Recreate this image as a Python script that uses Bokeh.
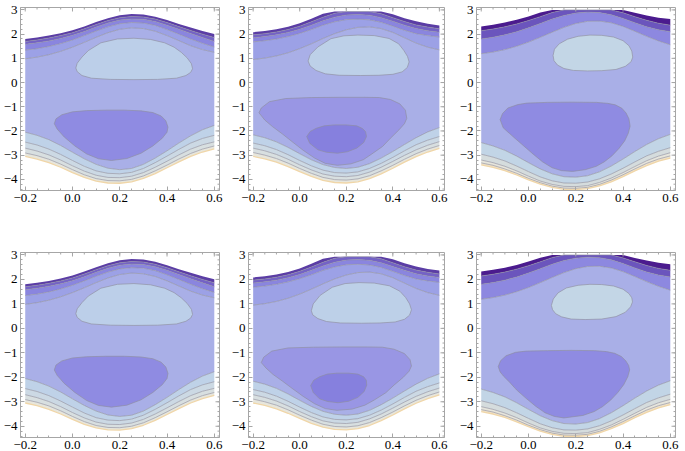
import math
from bokeh.plotting import figure
from bokeh.layouts import row, column
from bokeh.models import FixedTicker, LinearAxis, Range1d, CustomJSTickFormatter
from bokeh.embed import file_html
from bokeh.resources import INLINE

# ---------------- data ----------------
X = [-0.2, -0.15, -0.1, -0.05, 0.0, 0.05, 0.1, 0.15, 0.2, 0.25, 0.3, 0.35, 0.4, 0.45, 0.5, 0.55, 0.6]

# panels 1 & 4 : contour curves (top edge downwards, then lower part downwards)
T0A = [1.80, 1.86, 1.94, 2.04, 2.16, 2.32, 2.50, 2.66, 2.78, 2.83, 2.81, 2.72, 2.58, 2.42, 2.27, 2.13, 2.01]
T1A = [1.70, 1.76, 1.84, 1.94, 2.06, 2.22, 2.40, 2.56, 2.68, 2.73, 2.71, 2.62, 2.48, 2.31, 2.15, 2.00, 1.86]
T2A = [1.58, 1.64, 1.72, 1.82, 1.95, 2.11, 2.29, 2.46, 2.58, 2.63, 2.61, 2.52, 2.37, 2.20, 2.03, 1.86, 1.70]
T3A = [1.34, 1.40, 1.49, 1.61, 1.76, 1.94, 2.13, 2.30, 2.43, 2.48, 2.46, 2.36, 2.19, 2.00, 1.80, 1.62, 1.47]
T4A = [0.98, 1.05, 1.15, 1.29, 1.46, 1.66, 1.87, 2.06, 2.20, 2.26, 2.23, 2.12, 1.94, 1.73, 1.52, 1.36, 1.25]
B0A = [-2.05, -2.18, -2.36, -2.60, -2.88, -3.15, -3.38, -3.54, -3.60, -3.55, -3.38, -3.12, -2.82, -2.50, -2.20, -1.95, -1.77]
B1A = [-2.46, -2.58, -2.75, -2.97, -3.22, -3.46, -3.65, -3.75, -3.77, -3.71, -3.55, -3.31, -3.04, -2.76, -2.50, -2.31, -2.18]
B2A = [-2.71, -2.83, -2.99, -3.20, -3.44, -3.66, -3.83, -3.92, -3.93, -3.87, -3.72, -3.50, -3.25, -2.99, -2.75, -2.57, -2.45]
B3A = [-2.91, -3.02, -3.17, -3.37, -3.60, -3.81, -3.97, -4.05, -4.06, -4.00, -3.86, -3.65, -3.41, -3.16, -2.93, -2.75, -2.62]
BEA = [-3.05, -3.16, -3.31, -3.50, -3.72, -3.92, -4.07, -4.15, -4.16, -4.10, -3.96, -3.76, -3.52, -3.28, -3.05, -2.87, -2.74]

# panels 2 & 5
T0B = [2.08, 2.13, 2.20, 2.30, 2.45, 2.64, 2.84, 2.93, 2.93, 2.93, 2.93, 2.93, 2.82, 2.66, 2.53, 2.43, 2.36]
T1B = [1.97, 2.02, 2.09, 2.19, 2.33, 2.51, 2.70, 2.86, 2.93, 2.93, 2.93, 2.84, 2.68, 2.52, 2.38, 2.29, 2.22]
T2B = [1.85, 1.90, 1.97, 2.07, 2.20, 2.37, 2.55, 2.70, 2.79, 2.81, 2.78, 2.68, 2.53, 2.37, 2.23, 2.14, 2.08]
T3B = [1.68, 1.73, 1.80, 1.90, 2.03, 2.19, 2.37, 2.51, 2.60, 2.62, 2.59, 2.49, 2.33, 2.16, 2.02, 1.94, 1.88]
T4B = [0.95, 1.01, 1.10, 1.23, 1.40, 1.60, 1.82, 2.02, 2.18, 2.28, 2.30, 2.23, 2.07, 1.85, 1.63, 1.46, 1.35]
B0B = [-2.16, -2.28, -2.45, -2.68, -2.94, -3.19, -3.39, -3.51, -3.55, -3.50, -3.35, -3.12, -2.85, -2.56, -2.28, -2.04, -1.86]
B1B = [-2.50, -2.61, -2.77, -2.98, -3.22, -3.44, -3.62, -3.72, -3.74, -3.69, -3.55, -3.34, -3.09, -2.82, -2.57, -2.38, -2.23]
B2B = [-2.71, -2.82, -2.97, -3.17, -3.40, -3.61, -3.78, -3.87, -3.89, -3.84, -3.70, -3.50, -3.26, -3.01, -2.78, -2.59, -2.44]
B3B = [-2.89, -3.00, -3.14, -3.33, -3.55, -3.75, -3.92, -4.01, -4.03, -3.98, -3.85, -3.65, -3.42, -3.17, -2.94, -2.75, -2.60]
BEB = [-3.05, -3.15, -3.29, -3.47, -3.68, -3.88, -4.04, -4.13, -4.15, -4.10, -3.97, -3.77, -3.54, -3.29, -3.06, -2.87, -2.72]

# panels 3 & 6
T0C = [2.32, 2.39, 2.48, 2.59, 2.73, 2.89, 3.00, 3.00, 3.00, 3.00, 3.00, 3.00, 3.00, 2.88, 2.77, 2.68, 2.62]
T1C = [2.14, 2.21, 2.30, 2.42, 2.56, 2.72, 2.89, 3.00, 3.00, 3.00, 3.00, 3.00, 2.88, 2.72, 2.57, 2.45, 2.37]
T2C = [1.80, 1.87, 1.97, 2.10, 2.26, 2.44, 2.62, 2.77, 2.87, 2.91, 2.89, 2.80, 2.65, 2.47, 2.30, 2.18, 2.10]
T3C = [1.19, 1.26, 1.36, 1.50, 1.67, 1.87, 2.08, 2.28, 2.44, 2.53, 2.54, 2.47, 2.32, 2.12, 1.91, 1.72, 1.56]
B0C = [-2.48, -2.62, -2.80, -3.04, -3.31, -3.57, -3.77, -3.89, -3.91, -3.85, -3.69, -3.45, -3.16, -2.85, -2.56, -2.32, -2.14]
B1C = [-2.96, -3.08, -3.24, -3.45, -3.68, -3.90, -4.06, -4.15, -4.16, -4.11, -3.98, -3.78, -3.54, -3.28, -3.03, -2.84, -2.69]
B2C = [-3.20, -3.31, -3.46, -3.65, -3.87, -4.07, -4.21, -4.29, -4.30, -4.26, -4.13, -3.95, -3.72, -3.47, -3.23, -3.04, -2.90]
B3C = [-3.32, -3.42, -3.57, -3.75, -3.96, -4.14, -4.28, -4.36, -4.37, -4.33, -4.21, -4.03, -3.81, -3.57, -3.34, -3.16, -3.03]
BEC = [-3.40, -3.50, -3.64, -3.82, -4.02, -4.20, -4.33, -4.41, -4.42, -4.38, -4.27, -4.10, -3.89, -3.65, -3.43, -3.25, -3.12]

# closed regions (islands)
U1x = [0.014, 0.02, 0.04, 0.067, 0.12, 0.19, 0.26, 0.33, 0.39, 0.43, 0.46, 0.485, 0.503, 0.508, 0.50, 0.48, 0.44, 0.36, 0.26, 0.16, 0.08, 0.04, 0.02]
U1y = [0.60, 0.80, 1.05, 1.32, 1.64, 1.80, 1.83, 1.78, 1.64, 1.46, 1.25, 1.02, 0.78, 0.57, 0.42, 0.29, 0.18, 0.13, 0.12, 0.13, 0.18, 0.29, 0.45]
L1x = [-0.077, -0.07, -0.045, 0.0, 0.06, 0.14, 0.22, 0.29, 0.34, 0.375, 0.395, 0.404, 0.40, 0.38, 0.34, 0.29, 0.23, 0.165, 0.11, 0.06, 0.01, -0.035, -0.065]
L1y = [-1.70, -1.50, -1.33, -1.21, -1.16, -1.14, -1.14, -1.17, -1.24, -1.38, -1.58, -1.84, -2.05, -2.30, -2.62, -2.92, -3.14, -3.22, -3.15, -2.95, -2.62, -2.25, -1.92]

U2x = [0.036, 0.045, 0.078, 0.134, 0.19, 0.25, 0.32, 0.384, 0.425, 0.447, 0.463, 0.47, 0.462, 0.44, 0.40, 0.34, 0.26, 0.17, 0.11, 0.07, 0.045]
U2y = [0.89, 1.15, 1.47, 1.81, 1.93, 1.96, 1.94, 1.82, 1.60, 1.33, 1.08, 0.85, 0.62, 0.44, 0.34, 0.30, 0.29, 0.30, 0.36, 0.50, 0.68]
L2x = [-0.175, -0.165, -0.13, -0.06, 0.05, 0.17, 0.28, 0.342, 0.39, 0.43, 0.454, 0.46, 0.45, 0.426, 0.39, 0.356, 0.31, 0.273, 0.22, 0.162, 0.11, 0.064, 0.015, -0.033, -0.075, -0.117, -0.15]
L2y = [-1.25, -1.05, -0.79, -0.66, -0.62, -0.61, -0.61, -0.62, -0.70, -0.88, -1.14, -1.48, -1.70, -1.96, -2.30, -2.64, -2.95, -3.19, -3.36, -3.42, -3.34, -3.12, -2.80, -2.44, -2.12, -1.82, -1.55]
I2x = [0.03, 0.045, 0.071, 0.105, 0.148, 0.20, 0.245, 0.27, 0.283, 0.287, 0.275, 0.245, 0.205, 0.162, 0.115, 0.078, 0.043]
I2y = [-2.23, -2.02, -1.89, -1.79, -1.75, -1.75, -1.79, -1.90, -2.03, -2.23, -2.48, -2.71, -2.86, -2.92, -2.88, -2.78, -2.51]

U3x = [0.104, 0.11, 0.13, 0.165, 0.21, 0.26, 0.31, 0.36, 0.40, 0.425, 0.437, 0.441, 0.434, 0.41, 0.37, 0.31, 0.25, 0.19, 0.15, 0.123, 0.108]
U3y = [1.12, 1.38, 1.60, 1.79, 1.91, 1.96, 1.95, 1.88, 1.73, 1.52, 1.30, 1.05, 0.86, 0.67, 0.54, 0.49, 0.48, 0.50, 0.58, 0.72, 0.90]
L3x = [-0.12, -0.11, -0.087, -0.045, -0.007, 0.08, 0.18, 0.287, 0.335, 0.367, 0.395, 0.413, 0.425, 0.43, 0.422, 0.407, 0.383, 0.353, 0.32, 0.287, 0.24, 0.187, 0.14, 0.10, 0.06, 0.02, -0.02, -0.06, -0.09, -0.107]
L3y = [-1.53, -1.28, -1.05, -0.91, -0.85, -0.82, -0.81, -0.82, -0.86, -0.92, -1.06, -1.26, -1.50, -1.80, -2.10, -2.41, -2.72, -3.03, -3.28, -3.46, -3.60, -3.67, -3.64, -3.52, -3.28, -2.96, -2.62, -2.28, -2.02, -1.87]

U5x = [0.05, 0.058, 0.088, 0.14, 0.195, 0.255, 0.32, 0.385, 0.43, 0.455, 0.472, 0.48, 0.472, 0.45, 0.41, 0.345, 0.265, 0.175, 0.115, 0.078, 0.056]
U5y = [0.72, 1.00, 1.35, 1.68, 1.83, 1.87, 1.85, 1.74, 1.52, 1.26, 1.00, 0.76, 0.54, 0.37, 0.26, 0.22, 0.21, 0.22, 0.28, 0.40, 0.55]
L5x = [-0.165, -0.155, -0.12, -0.05, 0.06, 0.18, 0.29, 0.355, 0.405, 0.45, 0.474, 0.48, 0.47, 0.445, 0.405, 0.37, 0.32, 0.28, 0.225, 0.16, 0.11, 0.064, 0.015, -0.033, -0.075, -0.115, -0.145]
L5y = [-1.40, -1.18, -0.93, -0.80, -0.77, -0.76, -0.76, -0.77, -0.85, -1.03, -1.28, -1.54, -1.75, -2.00, -2.32, -2.63, -2.93, -3.14, -3.30, -3.35, -3.28, -3.08, -2.78, -2.45, -2.15, -1.88, -1.62]
I5x = [0.047, 0.06, 0.085, 0.118, 0.16, 0.21, 0.25, 0.275, 0.286, 0.288, 0.277, 0.25, 0.21, 0.165, 0.12, 0.085, 0.058]
I5y = [-2.34, -2.12, -1.98, -1.87, -1.83, -1.83, -1.87, -1.98, -2.12, -2.32, -2.58, -2.82, -2.98, -3.04, -2.99, -2.88, -2.62]

U6x = [0.097, 0.105, 0.125, 0.16, 0.21, 0.26, 0.31, 0.36, 0.40, 0.425, 0.437, 0.44, 0.432, 0.41, 0.37, 0.31, 0.24, 0.18, 0.14, 0.115, 0.102]
U6y = [0.94, 1.20, 1.45, 1.65, 1.76, 1.80, 1.79, 1.73, 1.60, 1.42, 1.25, 1.08, 0.88, 0.66, 0.48, 0.38, 0.36, 0.38, 0.47, 0.60, 0.76]
L6x = [-0.128, -0.118, -0.095, -0.055, -0.01, 0.08, 0.18, 0.28, 0.33, 0.365, 0.393, 0.412, 0.424, 0.428, 0.42, 0.403, 0.378, 0.348, 0.313, 0.278, 0.23, 0.15, 0.11, 0.07, 0.03, -0.01, -0.05, -0.08, -0.105, -0.12]
L6y = [-1.56, -1.32, -1.12, -0.98, -0.93, -0.91, -0.90, -0.91, -0.95, -1.02, -1.15, -1.33, -1.52, -1.70, -1.98, -2.30, -2.62, -2.93, -3.20, -3.40, -3.56, -3.66, -3.60, -3.45, -3.18, -2.86, -2.52, -2.20, -1.96, -1.78]

XTICKS = [-0.2, 0.0, 0.2, 0.4, 0.6]
YTICKS = [-4, -3, -2, -1, 0, 1, 2, 3]

# ---------------- styles ----------------
MAIN = "#a9afe7"
LINE = "#8e8e9e"
EDGE = "#f0d6a8"
FRAME = "#a6a6a6"
FONT = "Liberation Serif"
TOP_AB = ["#5b3da5", "#7462c6", "#8a85df", "#9ca1e6"]
TOP_C = ["#4b1b8e", "#6b55bd", "#8d88e0"]
BOT_AB = ["#bfd2e8", "#ccd9e4", "#d8dfe0", "#e7e6dc"]
BOT_C = ["#c2d5e6", "#d5dcdd", "#e6e5dc", "#efe3cc"]

XR = (-0.22, 0.622)
YR = (-4.46, 3.1)
XMINOR = [round(-0.2 + 0.05 * i, 3) for i in range(17)]
YMINOR = [round(-4.4 + 0.2 * i, 3) for i in range(38)]

def fmt(decimals):
    return CustomJSTickFormatter(code=(
        "const s = Math.abs(tick).toFixed(%d);"
        "return (tick < -1e-9 ? '\\u2212' : '') + s;" % decimals))

def style(ax, ticks, minor, decimals):
    ax.ticker = FixedTicker(ticks=ticks, minor_ticks=minor)
    ax.formatter = fmt(decimals)
    ax.axis_line_color = FRAME
    ax.major_tick_line_color = FRAME
    ax.minor_tick_line_color = FRAME
    ax.major_tick_in = 4
    ax.major_tick_out = 0
    ax.minor_tick_in = 2
    ax.minor_tick_out = 0
    ax.major_label_text_font = FONT
    ax.major_label_text_color = "#000000"
    ax.major_label_text_font_size = "13px"
    ax.major_label_standoff = 3

def panel(tops, bots, tcols, bcols, blobs, w, h, bl, br, bt, bb):
    p = figure(width=w, height=h, x_range=Range1d(*XR), y_range=Range1d(*YR),
               output_backend="svg", toolbar_location=None, x_axis_type=None, y_axis_type=None,
               min_border_left=bl, min_border_right=br, min_border_top=bt, min_border_bottom=bb,
               outline_line_color=FRAME)
    p.grid.visible = False
    for i in range(len(tops) - 1):
        p.varea(x=X, y1=tops[i + 1], y2=tops[i], fill_color=tcols[i])
    p.varea(x=X, y1=bots[0], y2=tops[-1], fill_color=MAIN)
    for i in range(len(bots) - 1):
        p.varea(x=X, y1=bots[i + 1], y2=bots[i], fill_color=bcols[i])
    for c in tops[1:]:
        p.line(X, c, line_color=LINE, line_width=0.8, line_alpha=0.8)
    for c in bots[:-1]:
        p.line(X, c, line_color=LINE, line_width=0.8, line_alpha=0.8)
    p.line(X, bots[-1], line_color=EDGE, line_width=1.3)
    for bx, by, col in blobs:
        p.patch(bx, by, fill_color=col, line_color=LINE, line_width=0.8, line_alpha=0.8)
    # mirrored frame ticks on the top and right edges (inner half of a dash marker)
    p.scatter(x=XTICKS, y=[YR[1]] * len(XTICKS), marker="dash", size=8, angle=math.pi / 2, line_color=FRAME)
    p.scatter(x=XMINOR, y=[YR[1]] * len(XMINOR), marker="dash", size=4, angle=math.pi / 2, line_color=FRAME)
    p.scatter(x=[XR[1]] * len(YTICKS), y=YTICKS, marker="dash", size=8, line_color=FRAME)
    p.scatter(x=[XR[1]] * len(YMINOR), y=YMINOR, marker="dash", size=4, line_color=FRAME)
    for side, t, m, d in [("below", XTICKS, XMINOR, 1), ("left", YTICKS, YMINOR, 0)]:
        ax = LinearAxis()
        style(ax, t, m, d)
        p.add_layout(ax, side)
    return p

TA = [T0A, T1A, T2A, T3A, T4A]
BA = [B0A, B1A, B2A, B3A, BEA]
TB = [T0B, T1B, T2B, T3B, T4B]
BB = [B0B, B1B, B2B, B3B, BEB]
TC = [T0C, T1C, T2C, T3C]
BC = [B0C, B1C, B2C, B3C, BEC]

COLW = [228, 228, 229]
BL = [18, 20, 20]
BR = [9, 12, 10]
ROWH = [245, 206]
BT = [7, 7]
BBm = [55, 14]

specs = [
    (TA, BA, TOP_AB, BOT_AB, [(U1x, U1y, "#bccfe9"), (L1x, L1y, "#8f8be2")]),
    (TB, BB, TOP_AB, BOT_AB, [(U2x, U2y, "#bdd0e8"), (L2x, L2y, "#9996e4"), (I2x, I2y, "#8680de")]),
    (TC, BC, TOP_C, BOT_C, [(U3x, U3y, "#c3d6e6"), (L3x, L3y, "#8f8be2")]),
    (TA, BA, TOP_AB, BOT_AB, [(U1x, U1y, "#bccfe9"), (L1x, L1y, "#8f8be2")]),
    (TB, BB, TOP_AB, BOT_AB, [(U5x, U5y, "#bdd0e8"), (L5x, L5y, "#9996e4"), (I5x, I5y, "#8680de")]),
    (TC, BC, TOP_C, BOT_C, [(U6x, U6y, "#c3d6e6"), (L6x, L6y, "#8f8be2")]),
]

figs = []
for k, (t, b, tc, bc, bl) in enumerate(specs):
    r, c = divmod(k, 3)
    figs.append(panel(t, b, tc, bc, bl, COLW[c], ROWH[r], BL[c], BR[c], BT[r], BBm[r]))

layout = column(row(*figs[:3]), row(*figs[3:]))

open("out.html", "w").write(file_html(layout, INLINE))
